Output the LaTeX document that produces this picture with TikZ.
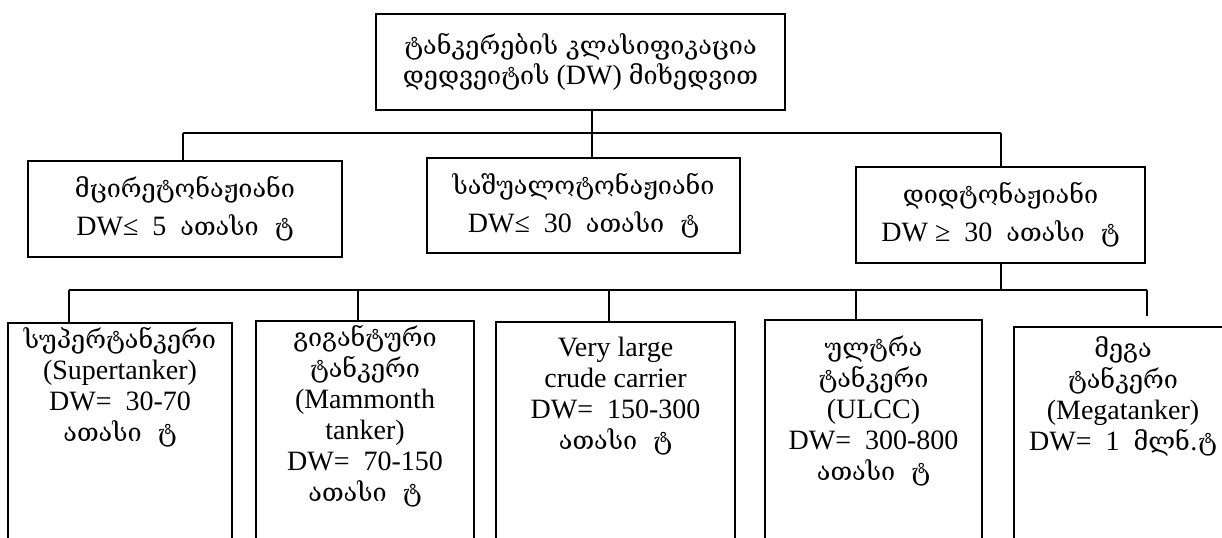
\documentclass[tikz,border=0pt]{standalone}
\usepackage{fontspec}
\setmainfont{Liberation Serif}
\newfontfamily\geo[Scale=0.9]{DejaVu Serif}
\usetikzlibrary{positioning}

\tikzset{
  box/.style={draw, line width=1pt, align=center, inner sep=0pt,
    font=\fontsize{14}{15}\selectfont},
  leaf/.style={box, anchor=north, text depth=150pt,
    font=\fontsize{14}{15.5}\selectfont},
  wire/.style={line width=1pt}
}

\begin{document}
\begin{tikzpicture}[x=0.5pt, y=-0.5pt]
        \useasboundingbox (0,0) rectangle (1222,537);
        \clip (0,0) rectangle (1222,537);
        %% root and the three weight classes
        \node[box, minimum width=204.5pt, minimum height=48pt] (root) at (580.5,62)
          {{\geo ტანკერების კლასიფიკაცია}\\{\geo დედვეიტის} (DW) {\geo მიხედვით}};
        \node[box, minimum width=157pt, minimum height=48pt] (small) at (185,209)
          {{\geo მცირეტონაჟიანი}\\[4pt]DW≤\ \ 5\ \ {\geo ათასი\ \ ტ}};
        \node[box, minimum width=156.5pt, minimum height=47.5pt] (medium) at (583.5,205.5)
          {{\geo საშუალოტონაჟიანი}\\[4pt]DW≤\ \ 30\ \ {\geo ათასი\ \ ტ}};
        \node[box, minimum width=144.5pt, minimum height=48pt] (large) at (1000.5,215)
          {{\geo დიდტონაჟიანი}\\[4pt]DW ≥\ \ 30\ \ {\geo ათასი\ \ ტ}};
        %% large tankers
        \node[leaf, minimum width=112pt, inner ysep=2pt] (super) at (120,322)
          {{\geo სუპერტანკერი}\\(Supertanker)\\DW=\ \ 30-70\\{\geo ათასი\ \ ტ}};
        \node[leaf, minimum width=109pt, inner ysep=2pt] (mammoth) at (365,320)
          {{\geo გიგანტური}\\{\geo ტანკერი}\\(Mammonth\\tanker)\\DW=\ \ 70-150\\{\geo ათასი\ \ ტ}};
        \node[leaf, minimum width=119.5pt, inner ysep=7.5pt] (vlcc) at (615.5,321)
          {Very large\\crude carrier\\DW=\ \ 150-300\\{\geo ათასი\ \ ტ}};
        \node[leaf, minimum width=108.5pt, inner ysep=8pt] (ulcc) at (873.5,319)
          {{\geo ულტრა}\\{\geo ტანკერი}\\(ULCC)\\DW=\ \ 300-800\\{\geo ათასი\ \ ტ}};
        \node[leaf, minimum width=109pt, inner ysep=5pt] (mega) at (1123,326)
          {{\geo მეგა}\\{\geo ტანკერი}\\(Megatanker)\\DW=\ \ 1\ \ {\geo მლნ.ტ}};
        % upper bus
        \coordinate (j1) at (183,133);
        \coordinate (j2) at (592,133);
        \coordinate (j3) at (1001,133);
        \draw[wire] (j1) -- (j3);
        \draw[wire] (j1) -- (j1 |- small.north);
        \draw[wire] (j2 |- root.south) -- (j2 |- medium.north);
        \draw[wire] (j3) -- (j3 |- large.north);
        % lower bus
        \coordinate (k1) at (69,290);
        \coordinate (k2) at (358,290);
        \coordinate (k3) at (609,290);
        \coordinate (k4) at (856,290);
        \coordinate (k5) at (1147,290);
        \draw[wire] (k1) -- (k5);
        \draw[wire] (large.south) -- (large.south |- k1);
        \draw[wire] (k1) -- (k1 |- super.north);
        \draw[wire] (k2) -- (k2 |- mammoth.north);
        \draw[wire] (k3) -- (k3 |- vlcc.north);
        \draw[wire] (k4) -- (k4 |- ulcc.north);
        \draw[wire, shorten >=5pt] (k5) -- (k5 |- mega.north);
      \end{tikzpicture}
\end{document}
